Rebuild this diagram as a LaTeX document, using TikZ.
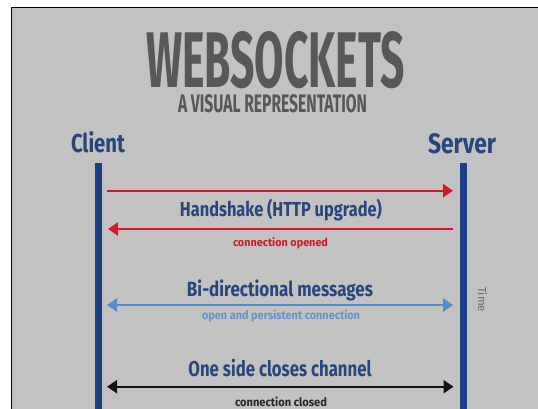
\documentclass[tikz,border=0pt]{standalone}
\usepackage{fontspec}
\setmainfont{Fira Sans}
\usepackage{graphicx}
\usetikzlibrary{arrows.meta}

% text squeezed to a given width and height (in pt), bold condensed look
\newcommand{\fitbox}[3]{\resizebox{#1pt}{#2pt}{\bfseries #3}}

\definecolor{bgray}{RGB}{194,194,194}
\definecolor{titlegray}{RGB}{88,88,88}
\definecolor{navytext}{RGB}{40,70,122}
\definecolor{lifeline}{RGB}{30,62,132}
\definecolor{msgred}{RGB}{214,22,44}
\definecolor{msgblue}{RGB}{86,140,206}
\definecolor{lightbluetext}{RGB}{104,146,204}
\definecolor{timegray}{RGB}{105,105,105}

\tikzset{
  lbl/.style={inner sep=0pt, anchor=base},
  lifelinestyle/.style={draw=lifeline, line width=7pt},
  msg/.style={line width=2.3pt, {Triangle[length=10pt,width=13pt]}-{Triangle[length=10pt,width=13pt]}},
  msgright/.style={line width=2.3pt, -{Triangle[length=10pt,width=13pt]}},
  msgleft/.style={line width=2.3pt, {Triangle[length=10pt,width=13pt]}-},
}

\begin{document}
\begin{tikzpicture}[x=1pt,y=-1pt]
\useasboundingbox (0,0) rectangle (538,409);

% slide frame
\fill[white] (0,0) rectangle (538,409);
\fill[bgray] (12,8) rectangle (538,409);
\draw[black, line width=1.3pt] (11.6,409) -- (11.6,7.6) -- (538,7.6);

% headings
\node[lbl, text=titlegray] (title) at (275.5,88) {\fitbox{258}{56}{WEBSOCKETS}};
\node[lbl, text=titlegray] (subtitle) at (272.5,113) {\fitbox{189}{18}{A VISUAL REPRESENTATION}};

% participants
\node[lbl, text=navytext] (client) at (98,153) {\fitbox{54}{21}{Client}};
\node[lbl, text=navytext] (server) at (462,153) {\fitbox{68}{20}{Server}};

% lifelines
\coordinate (ctop) at (98.5,163);
\coordinate (cbot) at (98.5,409);
\coordinate (stop) at (463.5,163);
\coordinate (sbot) at (463.5,409);
\draw[lifelinestyle] (ctop) -- (cbot);
\draw[lifelinestyle] (stop) -- (sbot);

% message end points on both sides
\coordinate (c1) at (107,190.7);  \coordinate (s1) at (453,190.7);
\coordinate (c2) at (108,229);    \coordinate (s2) at (453,229);
\coordinate (c3) at (107,305);    \coordinate (s3) at (453,305);
\coordinate (c4) at (107,386.7);  \coordinate (s4) at (453.5,386.7);

% handshake
\draw[msgright, msgred] (c1) -- (s1);
\node[lbl, text=navytext] (hs) at (281,216.7) {\fitbox{202}{17.4}{Handshake (HTTP upgrade)}};
\draw[msgleft, msgred] (c2) -- (s2);
\node[lbl, text=msgred] (opened) at (280.5,246.5) {\fitbox{95}{9}{connection opened}};

% messages
\node[lbl, text=navytext] (bidi) at (280,296) {\fitbox{186}{16.7}{Bi-directional messages}};
\draw[msg, msgblue] (c3) -- (s3);
\node[lbl, text=lightbluetext] (persist) at (281,319.3) {\fitbox{158}{9.5}{open and persistent connection}};

% closing
\node[lbl, text=navytext] (closes) at (280,376.7) {\fitbox{183}{17.4}{One side closes channel}};
\draw[msg, black!92] (c4) -- (s4);
\node[lbl, text=black!85] (closed) at (281,406) {\fitbox{92}{9.5}{connection closed}};

% time axis label
\node[inner sep=0pt, text=timegray, rotate=-90] (time) at (482.5,299.5) {\resizebox{25pt}{9pt}{Time}};
\end{tikzpicture}
\end{document}
